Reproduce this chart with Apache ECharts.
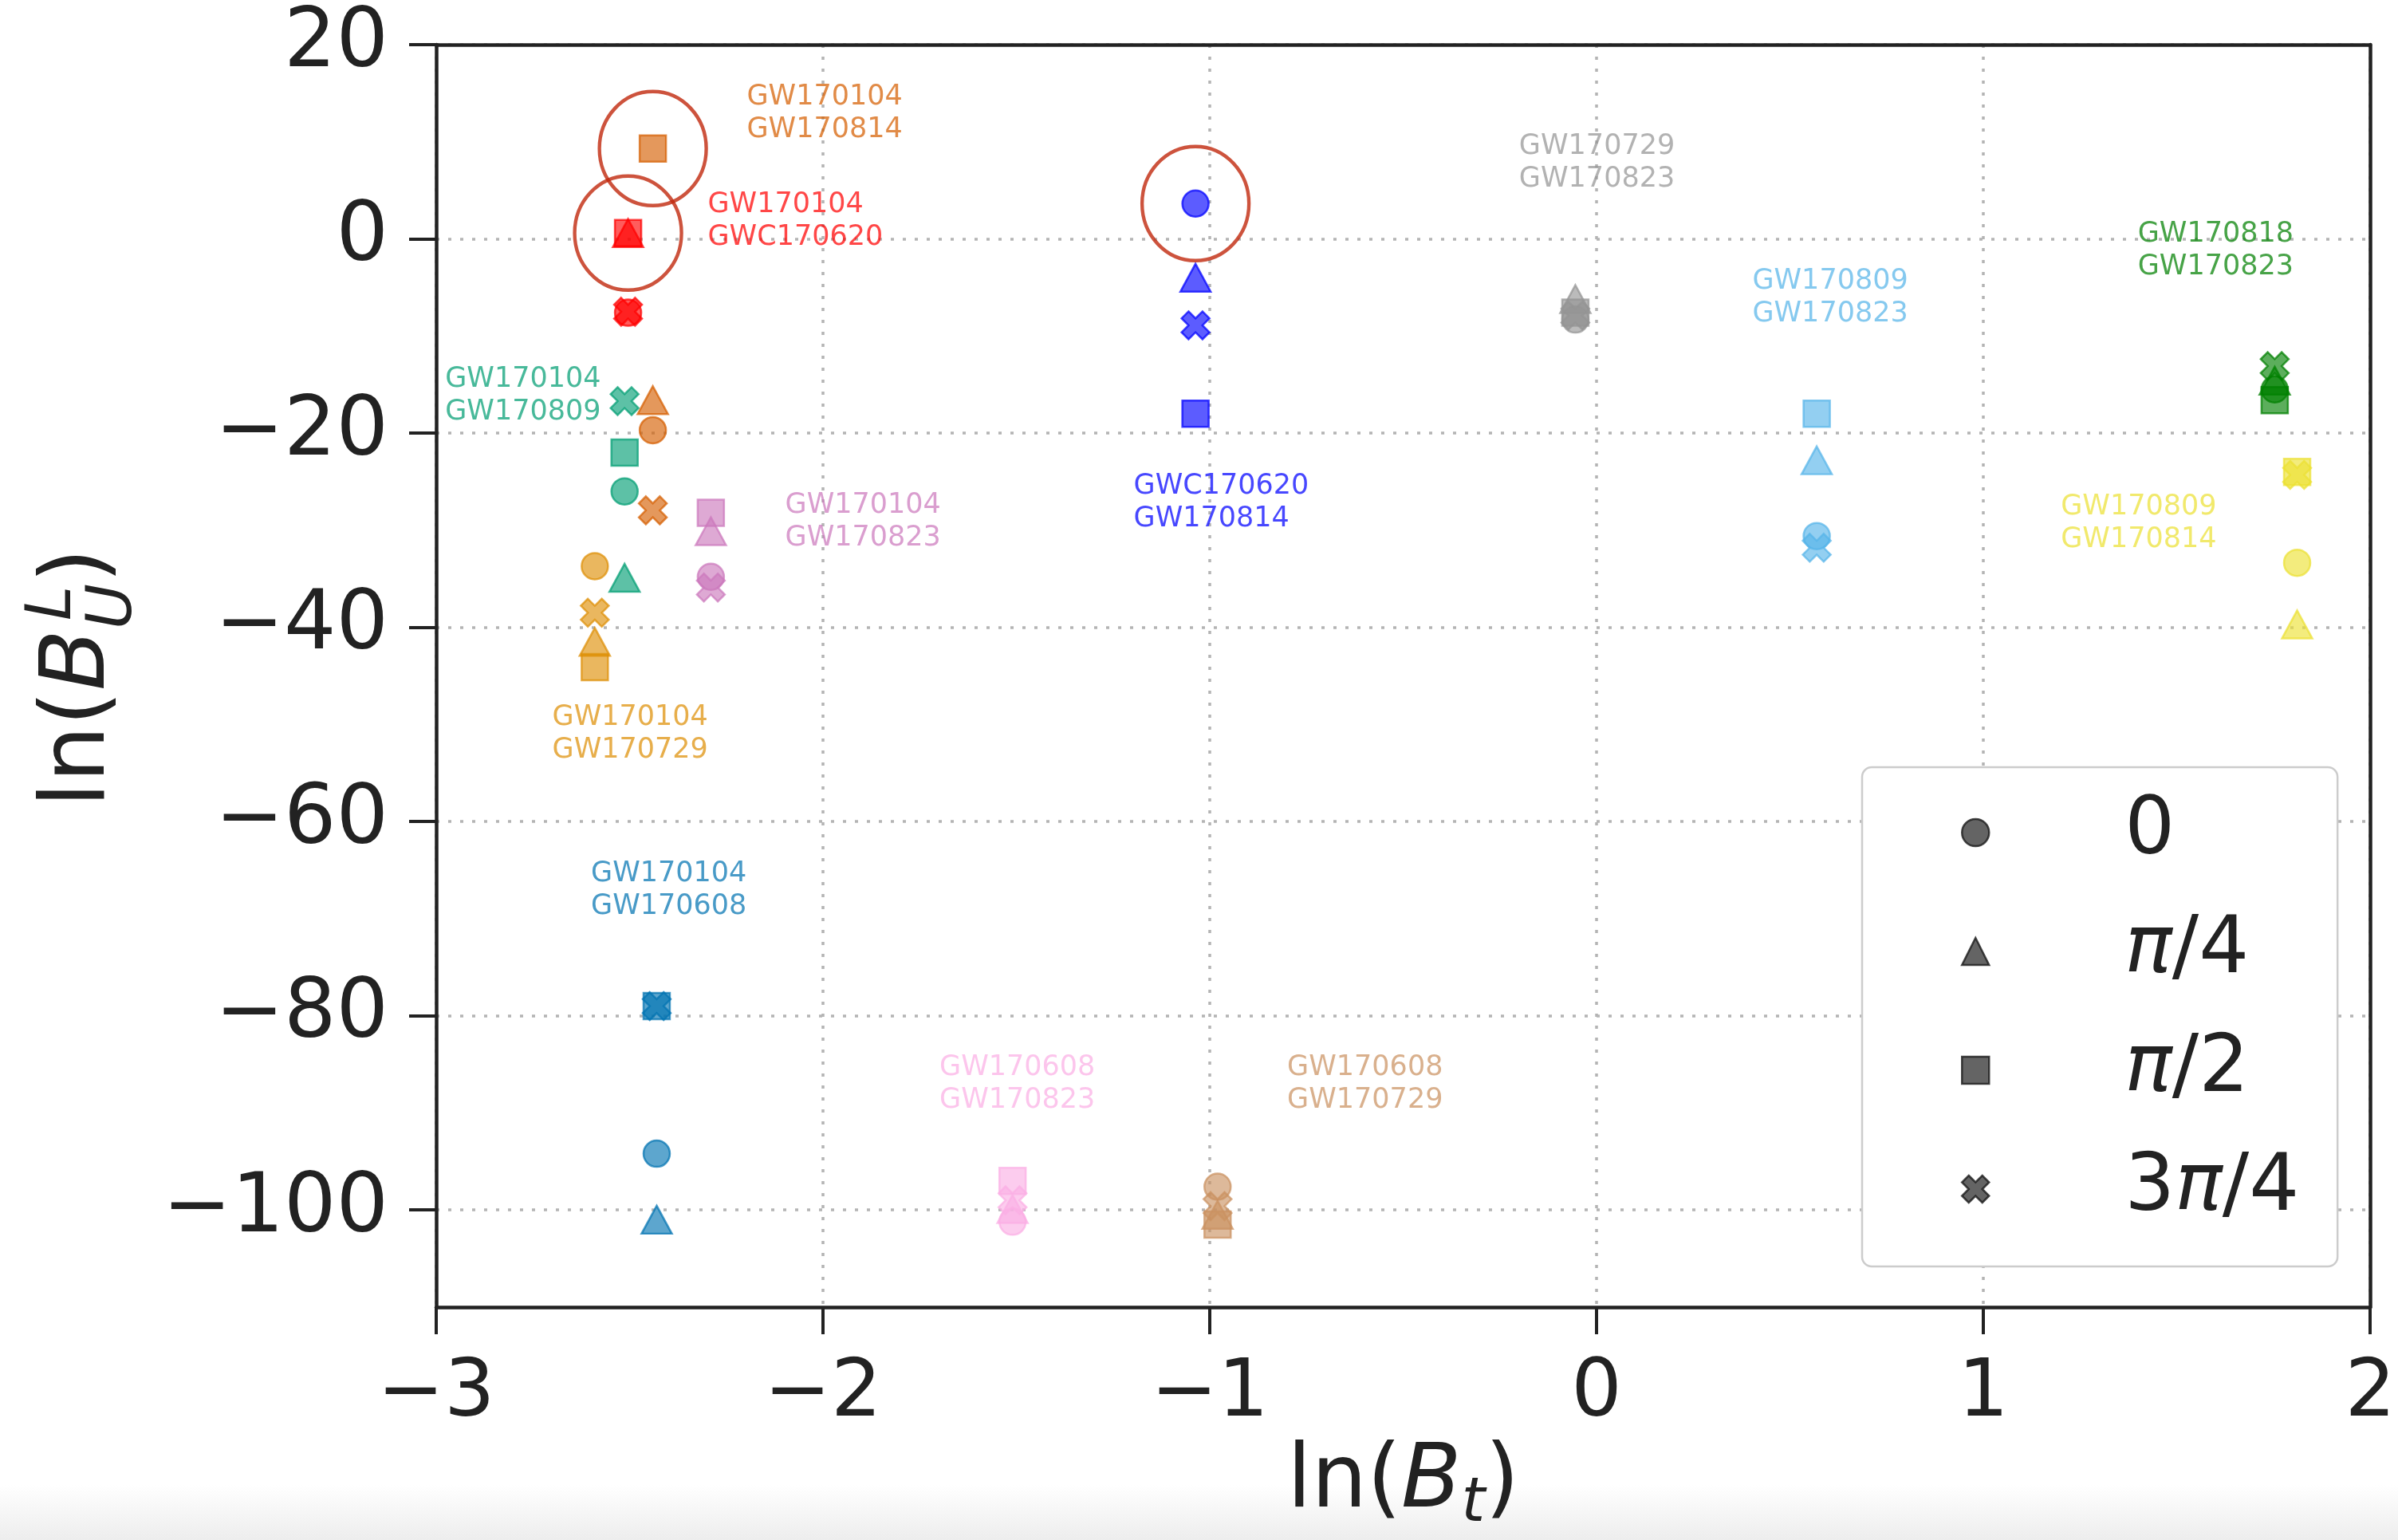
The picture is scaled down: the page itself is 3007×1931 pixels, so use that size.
<!DOCTYPE html>
<html><head><meta charset="utf-8">
<script src="https://cdn.jsdelivr.net/npm/echarts@6/dist/echarts.min.js"></script>
<style>html,body{margin:0;padding:0;background:#fff}#c{width:3007px;height:1931px}</style>
</head><body><div id="c"></div>
<script>
// ---- data ----
const pairNames = [
  'GW170104-GW170608','GW170104-GW170729','GW170104-GW170809','GW170104-GW170814',
  'GW170104-GW170823','GW170608-GW170729','GW170608-GW170823','GW170729-GW170823',
  'GW170809-GW170814','GW170809-GW170823','GW170104-GWC170620','GWC170620-GW170814',
  'GW170818-GW170823'
];
const pairColors = ['#0173b2','#de8f05','#029e73','#d55e00','#cc78bc','#ca9161','#fbafe4',
  '#949494','#ece133','#56b4e9','#ff0000','#0000ff','#008000'];
const lnBt = [-2.43,-2.59,-2.513,-2.44,-2.29,-0.98,-1.51,-0.055,1.811,0.569,-2.504,-1.037,1.753];
const lnBU_phase0    = [-94.2,-33.7,-26.0,-19.7,-34.8,-97.6,-101.2,-8.3,-33.35,-30.6,-7.6,3.64,-15.5];
const lnBU_phasePi4  = [-101.0,-41.5,-34.9,-16.6,-30.1,-100.5,-99.9,-6.2,-39.7,-22.8,0.6,-4.0,-14.6];
const lnBU_phasePi2  = [-79.0,-44.1,-22.0,9.3,-28.2,-101.5,-97.0,-7.6,-24.0,-18.0,0.6,-18.0,-16.6];
const lnBU_phase3Pi4 = [-79.0,-38.5,-16.7,-27.95,-35.9,-99.6,-99.0,-7.9,-24.3,-31.8,-7.5,-8.9,-13.1];
const phaseNames = ['0','π/4','π/2','3π/4'];
// label anchor (top-left of each two-line annotation), in data units
const labelX = [-2.6,-2.7,-2.977,-2.197,-2.098,-0.8,-1.699,-0.2005,1.2,0.4026,-2.298,-1.197,1.399];
const labelY = [-63.7,-47.6,-12.8,16.3,-25.8,-83.7,-83.7,11.2,-25.9,-2.74,5.2,-23.8,2.18];
// circled points: [pair index, phase index]
const circled = [[3,2],[10,2],[11,0]];
const xTicks = [-3,-2,-1,0,1,2];
const yTicks = [-100,-80,-60,-40,-20,0,20];

// ---- build ----
const FONT = "'DejaVu Sans', sans-serif";
function rgba(hex, a){const n=parseInt(hex.slice(1),16);return `rgba(${n>>16&255},${n>>8&255},${n&255},${a})`;}
const crossPath = 'path://M-0.5,-1 L0,-0.5 L0.5,-1 L1,-0.5 L0.5,0 L1,0.5 L0.5,1 L0,0.5 L-0.5,1 L-1,0.5 L-0.5,0 L-1,-0.5 Z';
const phaseValues = [lnBU_phase0, lnBU_phasePi4, lnBU_phasePi2, lnBU_phase3Pi4];
const phaseSymbols = ['circle','triangle','rect',crossPath];
const phaseSizes = [33,[38,35],33,35];
const minus = v => String(v).replace('-', '\u2212');

const series = phaseNames.map((nm, k) => ({
  name: nm, type: 'scatter', symbol: phaseSymbols[k], symbolSize: phaseSizes[k],
  itemStyle: {color:'#3d3d3d', borderColor:'#1a1a1a', borderWidth:2.5},
  silent: true, z: 3,
  data: pairNames.map((p, i) => ({
    value: [lnBt[i], phaseValues[k][i]],
    itemStyle: {color: rgba(pairColors[i], 0.8), borderColor: rgba(pairColors[i], 0.9), borderWidth: 2.5}
  }))
}));
series.push({
  name: 'labels', type: 'scatter', symbolSize: 0, silent: true, z: 4,
  data: pairNames.map((p, i) => ({
    value: [labelX[i], labelY[i]],
    label: {show: true, position: [0,0], align: 'left', verticalAlign: 'top',
      formatter: p.split('-').join('\n'), color: rgba(pairColors[i], 0.9),
      fontFamily: FONT, fontSize: 35, lineHeight: 41}
  }))
});
series.push({
  name: 'circled', type: 'scatter', symbol: 'circle', symbolSize: [134, 143], silent: true, z: 5,
  itemStyle: {color: 'rgba(0,0,0,0)', borderColor: '#c0280c', borderWidth: 4.5},
  data: circled.map(([i, k]) => [lnBt[i], phaseValues[k][i]])
});

const axisLineStyle = {color: '#222', width: 4.5};
const splitStyle = {color: '#b4b4b4', width: 3.5, type: [4, 11]};
const txt = (t, x, y, fs, italic) => ({type: 'text', x: x, y: y, silent: true,
  style: {text: t, fontFamily: FONT, fontSize: fs, fontStyle: italic ? 'italic' : 'normal',
    fill: '#222', align: 'left', verticalAlign: 'middle'}});

const option = {
  backgroundColor: '#ffffff',
  animation: false,
  grid: {left: 547, top: 56, width: 2429, height: 1583, show: false},
  legend: {
    data: phaseNames, orient: 'vertical', left: 2335, top: 962,
    padding: [27, 48, 42, 124], itemGap: 39, itemWidth: 34, itemHeight: 34,
    backgroundColor: '#ffffff', borderColor: '#cccccc', borderWidth: 2.5, borderRadius: 12,
    selectedMode: false,
    itemStyle: {color: '#3d3d3d', borderColor: '#1a1a1a', borderWidth: 2.5},
    formatter: n => n.replace('π', '{i|π}'),
    textStyle: {fontSize: 99, fontFamily: FONT, color: '#222', lineHeight: 110, padding: [0,0,0,165],
      rich: {i: {fontSize: 99, fontFamily: FONT, color: '#222', fontStyle: 'italic', lineHeight: 110}}}
  },
  xAxis: [{
    type: 'value', min: -3, max: 2, interval: 1, position: 'bottom',
    axisLine: {show: true, onZero: false, lineStyle: axisLineStyle},
    axisTick: {show: true, length: 34, lineStyle: {color: '#222', width: 4}},
    axisLabel: {fontSize: 100, fontFamily: FONT, color: '#222', margin: 60, formatter: v => minus(v),
      customValues: xTicks},
    splitLine: {show: true, lineStyle: splitStyle},
    name: '{a|ln(}{b|B}{s|t}{a|)}', nameLocation: 'middle', nameGap: 156,
    nameTextStyle: {rich: {
      a: {fontSize: 110, fontFamily: FONT, color: '#222', lineHeight: 130},
      b: {fontSize: 110, fontFamily: FONT, color: '#222', fontStyle: 'italic', lineHeight: 130},
      s: {fontSize: 76, fontFamily: FONT, color: '#222', fontStyle: 'italic', lineHeight: 60, verticalAlign: 'bottom'}
    }}
  }, {
    type: 'value', min: -3, max: 2, position: 'top',
    axisLine: {show: true, onZero: false, lineStyle: axisLineStyle},
    axisTick: {show: false}, axisLabel: {show: false}, splitLine: {show: false}
  }],
  yAxis: [{
    type: 'value', min: -110, max: 20, position: 'left',
    axisLine: {show: true, onZero: false, lineStyle: axisLineStyle},
    axisTick: {show: true, length: 34, lineStyle: {color: '#222', width: 4}, customValues: yTicks},
    axisLabel: {fontSize: 103, fontFamily: FONT, color: '#222', margin: 60, formatter: v => minus(v),
      customValues: yTicks},
    splitLine: {show: true, lineStyle: splitStyle}
  }, {
    type: 'value', min: -110, max: 20, position: 'right',
    axisLine: {show: true, onZero: false, lineStyle: axisLineStyle},
    axisTick: {show: false}, axisLabel: {show: false}, splitLine: {show: false}
  }],
  graphic: [{
    type: 'rect', left: 0, top: 1862, shape: {width: 3007, height: 69}, silent: true, z: -10,
    style: {fill: {type: 'linear', x: 0, y: 0, x2: 0, y2: 1,
      colorStops: [{offset: 0, color: '#ffffff'}, {offset: 1, color: '#ededed'}]}}
  }, {
    // y-axis title ln(B_U^L), rotated
    type: 'group', x: 101, y: 1012, rotation: Math.PI / 2, silent: true,
    children: [
      txt('ln(', 0, 0, 112, false),
      txt('B', 146, 0, 112, true),
      txt('L', 234, -33, 78, true),
      txt('U', 223, 43, 78, true),
      txt(')', 281, 0, 112, false)
    ]
  }],
  series: series
};
const chart = echarts.init(document.getElementById('c'), null, {renderer: 'canvas'});
chart.setOption(option);
</script></body></html>
